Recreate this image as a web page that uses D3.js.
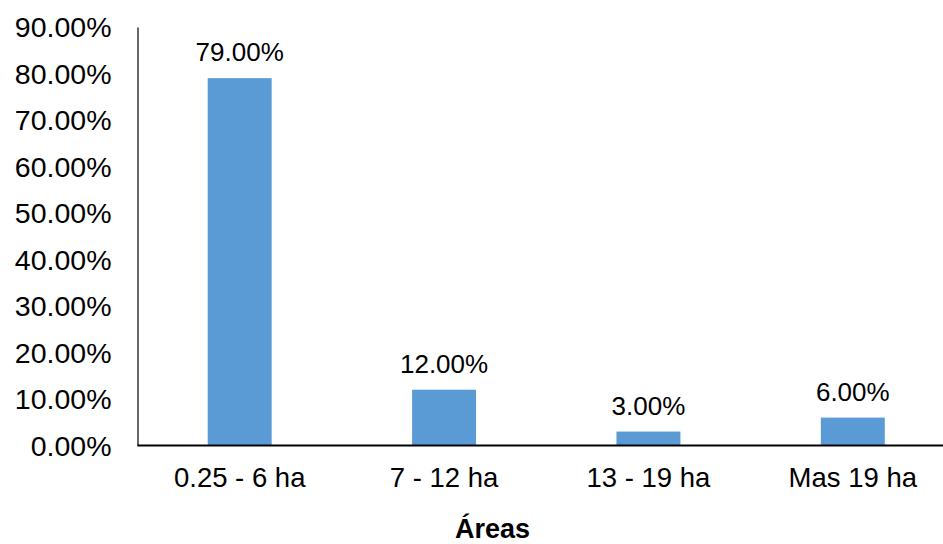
<!DOCTYPE html>
<html>
<head>
<meta charset="utf-8">
<script src="https://cdn.jsdelivr.net/npm/d3@7"></script>
<style>
  html, body { margin: 0; padding: 0; background: #fff; }
  svg { display: block; }
  text { font-family: "Liberation Sans", Arial, sans-serif; fill: #000; }
</style>
</head>
<body>
<svg id="chart" width="943" height="544"></svg>
<script>
const categories = ["0.25 - 6 ha", "7 - 12 ha", "13 - 19 ha", "Mas 19 ha"];
const values = [0.79, 0.12, 0.03, 0.06];
const yTicks = [0, 0.1, 0.2, 0.3, 0.4, 0.5, 0.6, 0.7, 0.8, 0.9];
const axisTitle = "Áreas";

(function () {
const svg = d3.select("#chart");
const plotLeft = 137.5, plotRight = 955, plotTop = 27, plotBottom = 445.5;

const x = d3.scaleBand().domain(categories).range([plotLeft, plotRight]).paddingInner(0.687).paddingOuter(0.3435);
const y = d3.scaleLinear().domain([0, 0.9]).range([plotBottom, plotTop]);
const fmt = d => (d * 100).toFixed(2) + "%";

// bars
svg.append("g").selectAll("rect").data(values).join("rect")
  .attr("x", (d, i) => x(categories[i]))
  .attr("width", x.bandwidth())
  .attr("y", d => y(d))
  .attr("height", d => y(0) - y(d))
  .attr("fill", "#5B9BD5");

// y axis
const yAxis = svg.append("g").attr("transform", `translate(${plotLeft},0)`)
  .call(d3.axisLeft(y).tickValues(yTicks).tickFormat(fmt).tickSize(0).tickPadding(26));
yAxis.select(".domain").attr("stroke", "#000").attr("stroke-width", 1.2);
yAxis.selectAll("text").style("font-size", "28.5px").attr("dy", "0.35em").style("font-family", '"Liberation Sans", Arial, sans-serif');

// x axis
const xAxis = svg.append("g").attr("transform", `translate(0,${plotBottom})`)
  .call(d3.axisBottom(x).tickSize(0).tickPadding(0));
xAxis.select(".domain").remove();
svg.append("line").attr("x1", plotLeft).attr("x2", 943).attr("y1", plotBottom).attr("y2", plotBottom)
  .attr("stroke", "#000").attr("stroke-width", 2);
xAxis.selectAll("text").style("font-size", "27.5px").attr("y", 41.5).attr("dy", 0)
  .style("font-family", '"Liberation Sans", Arial, sans-serif');

// data labels
svg.append("g").selectAll("text").data(values).join("text")
  .attr("x", (d, i) => x(categories[i]) + x.bandwidth() / 2)
  .attr("y", d => y(d) - 17)
  .attr("text-anchor", "middle")
  .style("font-size", "26px")
  .text(d => fmt(d));

// axis title
svg.append("text").attr("x", 492.5).attr("y", 538).attr("text-anchor", "middle")
  .style("font-size", "27px").style("font-weight", "bold").text(axisTitle);
})();
</script>
</body>
</html>
